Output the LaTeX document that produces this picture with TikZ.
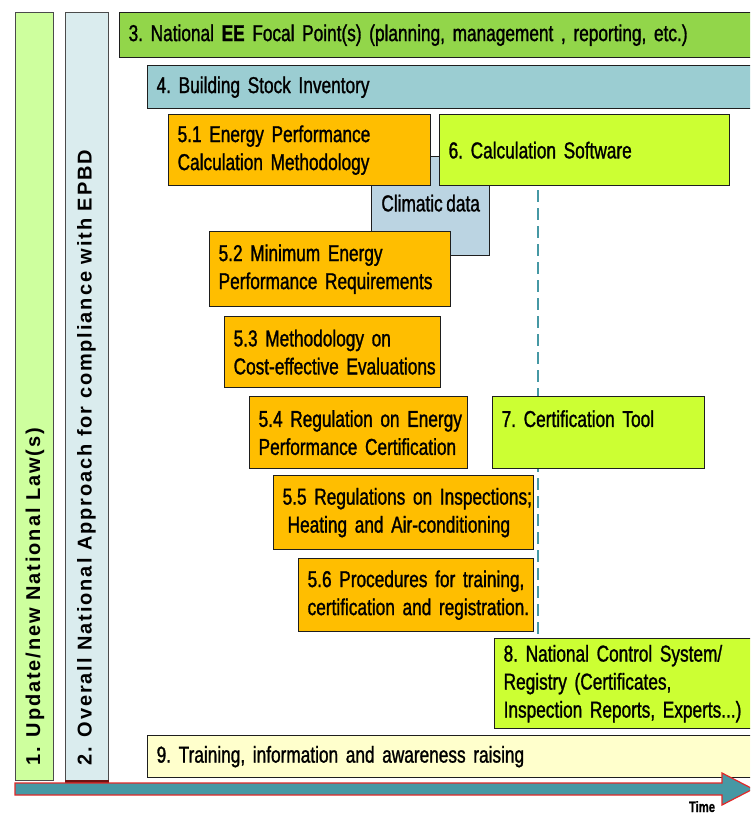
\documentclass[tikz,border=0pt]{standalone}
\usepackage{fontspec}
\setmainfont[FakeStretch=0.75,WordSpace=0.75,FakeBold=1.2]{Liberation Sans}
\newfontfamily\vfont[LetterSpace=9.5]{Liberation Sans}
\newcommand{\boxfnt}{\frenchspacing\hyphenpenalty=10000\relax\fontsize{23}{28}\selectfont}
\newcommand{\lnbox}[1]{\mbox{#1}}
\definecolor{linec}{RGB}{30,30,30}
\definecolor{cone}{RGB}{206,255,158}
\definecolor{ctwo}{RGB}{218,236,238}
\definecolor{cthree}{RGB}{146,214,74}
\definecolor{cfour}{RGB}{155,205,210}
\definecolor{corange}{RGB}{255,190,0}
\definecolor{cyg}{RGB}{204,255,51}
\definecolor{cclim}{RGB}{187,212,226}
\definecolor{cnine}{RGB}{255,255,204}
\definecolor{cteal}{RGB}{70,152,164}
\definecolor{cred}{RGB}{225,40,40}
\definecolor{cdkred}{RGB}{110,20,20}
\begin{document}
\begin{tikzpicture}[x=1pt,y=-1pt,
  bx/.style={draw=linec, line width=1.3pt, rectangle, anchor=north west,
    inner xsep=9pt, inner ysep=0pt, align=left, font=\boxfnt},
  vtext/.style={rotate=90, anchor=west, inner sep=0pt,
    font=\vfont\bfseries\fontsize{20}{22}\selectfont},
  dashc/.style={draw=cteal, line width=2.6pt, dash pattern=on 12pt off 6pt},
  arrowc/.style={draw=cred, line width=1.2pt, fill=cteal, line join=miter}]
\clip (0,0) rectangle (750,816);
\fill[white] (0,0) rectangle (750,816);

% vertical bars
\node[bx, fill=cone, draw=linec!80, minimum width=38pt, minimum height=768pt] (b1) at (15,12) {};
\node[bx, fill=ctwo, draw=linec!80, minimum width=43pt, minimum height=768pt] (b2) at (65,12) {};
\draw[cdkred, line width=2.5pt] (b2.south west) -- (b2.south east);
\node[vtext] (t1) at (35,766) {1. Update/new National Law(s)};
\node[vtext] (t2) at (86.5,766) {2. Overall National Approach for compliance with EPBD};

% horizontal bars
\node[bx, fill=cthree, minimum width=641pt, minimum height=45pt, text width=623pt] (b3) at (119,12)
  {\lnbox{3. National \textbf{EE} Focal Point(s) (planning, management , reporting, etc.)}};
\node[bx, fill=cfour, minimum width=613pt, minimum height=43pt, text width=595pt] (b4) at (147,65)
  {\lnbox{4. Building Stock Inventory}};

% climatic data (behind)
\node[bx, fill=cclim, minimum width=118pt, minimum height=99pt, text width=100pt] (clim) at (371,156) {};
\node[inner sep=0pt, font=\boxfnt] (climtext) at ([yshift=3pt]clim.center) {Climatic data};

\node[bx, fill=corange, minimum width=262pt, minimum height=71pt, text width=244pt] (b51) at (168,114)
  {\lnbox{5.1 Energy Performance}\\\lnbox{Calculation Methodology}};
\node[bx, fill=cyg, minimum width=290pt, minimum height=71pt, text width=272pt] (b6) at (439,114)
  {\lnbox{6. Calculation Software}};
\node[bx, fill=corange, minimum width=241pt, minimum height=75pt, text width=223pt] (b52) at (209,231)
  {\lnbox{5.2 Minimum Energy}\\\lnbox{Performance Requirements}};
\node[bx, fill=corange, minimum width=216pt, minimum height=71pt, text width=198pt] (b53) at (224,316)
  {\lnbox{5.3 Methodology on}\\\lnbox{Cost-effective Evaluations}};

% dashed timeline
\coordinate (dashx) at (538,0);
\node[bx, fill=cyg, minimum width=266pt, minimum height=90pt, text width=248pt] (b8) at (494,638)
  {\lnbox{8. National Control System/}\\\lnbox{Registry (Certificates,}\\\lnbox{Inspection Reports, Experts...)}};
\draw[dashc] ([yshift=-4pt]b6.south -| dashx) -- (b8.north -| dashx);

\node[bx, fill=corange, minimum width=218pt, minimum height=72pt, text width=200pt] (b54) at (249,396)
  {\lnbox{5.4 Regulation on Energy}\\\lnbox{Performance Certification}};
\node[bx, fill=cyg, minimum width=212pt, minimum height=72pt, text width=194pt] (b7) at (492,396)
  {\lnbox{7. Certification Tool}\\\mbox{}};
\node[bx, fill=corange, minimum width=260pt, minimum height=74pt, text width=242pt] (b55) at (273,475)
  {\lnbox{5.5 Regulations on Inspections;}\\\lnbox{\hspace*{5pt}Heating and Air-conditioning}};
\node[bx, fill=corange, minimum width=235pt, minimum height=73pt, text width=217pt] (b56) at (298,558)
  {\lnbox{5.6 Procedures for training,}\\\lnbox{certification and registration.}};

\node[bx, fill=cnine, minimum width=613pt, minimum height=42pt, text width=595pt] (b9) at (147,735)
  {\lnbox{9. Training, information and awareness raising}};

% time arrow
\draw[arrowc] (15,783) -- (722,783) -- (722,773) -- (753,789) -- (722,805) -- (722,795) -- (15,795) -- cycle;
\node[anchor=base, inner sep=0pt, font=\bfseries\fontsize{15}{17}\selectfont] (time) at (702,812) {Time};
\end{tikzpicture}
\end{document}
